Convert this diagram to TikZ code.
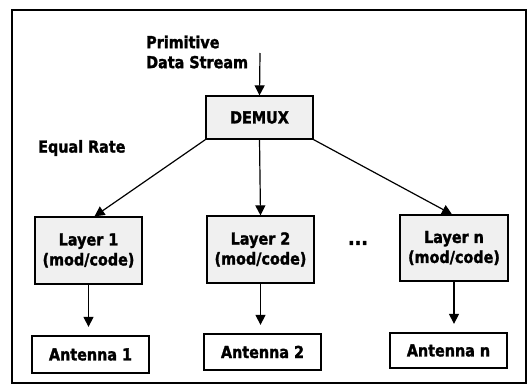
\documentclass[tikz,border=0pt]{standalone}
\usepackage{fontspec}
\setmainfont[FakeStretch=0.87, BoldFeatures={FakeBold=1.6}]{DejaVu Sans}
\usetikzlibrary{arrows.meta}
\begin{document}
\begin{tikzpicture}[x=1pt,y=-1pt,
  txt/.style={font=\bfseries\fontsize{16.5}{20}\selectfont, align=center, inner sep=0pt},
  boxg/.style={txt, draw, line width=1.3pt, fill=gray!12},
  boxw/.style={txt, draw, line width=1.3pt, fill=white},
  arr/.style={line width=1.2pt, -{Triangle[length=10pt,width=10pt]}}]
\useasboundingbox (0,0) rectangle (532,386);
\draw[line width=2.6pt] (12,10) rectangle (526,383);
\node[txt, align=left, anchor=west] (pds) at (146,52) {Primitive\\Data Stream};
\coordinate (src) at (260,53);
\node[boxg, minimum width=107pt, minimum height=43pt] (demux) at (259.5,117.5) {DEMUX};
\node[txt, anchor=west] (eq) at (38,148) {Equal Rate};
\node[boxg, minimum width=107pt, minimum height=67pt] (l1) at (88.5,250.5) {Layer 1\\(mod/code)};
\node[boxg, minimum width=107pt, minimum height=67pt] (l2) at (260.5,249.5) {Layer 2\\(mod/code)};
\node[boxg, minimum width=108pt, minimum height=66pt] (ln) at (454,248) {Layer n\\(mod/code)};
\node[txt, font=\bfseries\fontsize{20}{20}\selectfont] (dots) at (358,243) {...};
\node[boxw, minimum width=117pt, minimum height=37pt] (a1) at (90.5,354.5) {Antenna 1};
\node[boxw, minimum width=117pt, minimum height=36pt] (a2) at (262.5,352) {Antenna 2};
\node[boxw, minimum width=117pt, minimum height=35pt] (an) at (448.5,350.5) {Antenna n};
\draw[arr] (src) -- (demux.north);
\draw[arr] (demux.south west) -- ([xshift=6pt]l1.north);
\draw[arr] (demux.south) -- (l2.north);
\draw[arr] (demux.south east) -- ([xshift=-2pt]ln.north);
\draw[arr, shorten >=8.5pt] (l1.south) -- (l1.south |- a1.north);
\draw[arr, shorten >=8.5pt] (l2.south) -- (l2.south |- a2.north);
\draw[arr, shorten >=8.5pt] (ln.south) -- (ln.south |- an.north);
\end{tikzpicture}
\end{document}
